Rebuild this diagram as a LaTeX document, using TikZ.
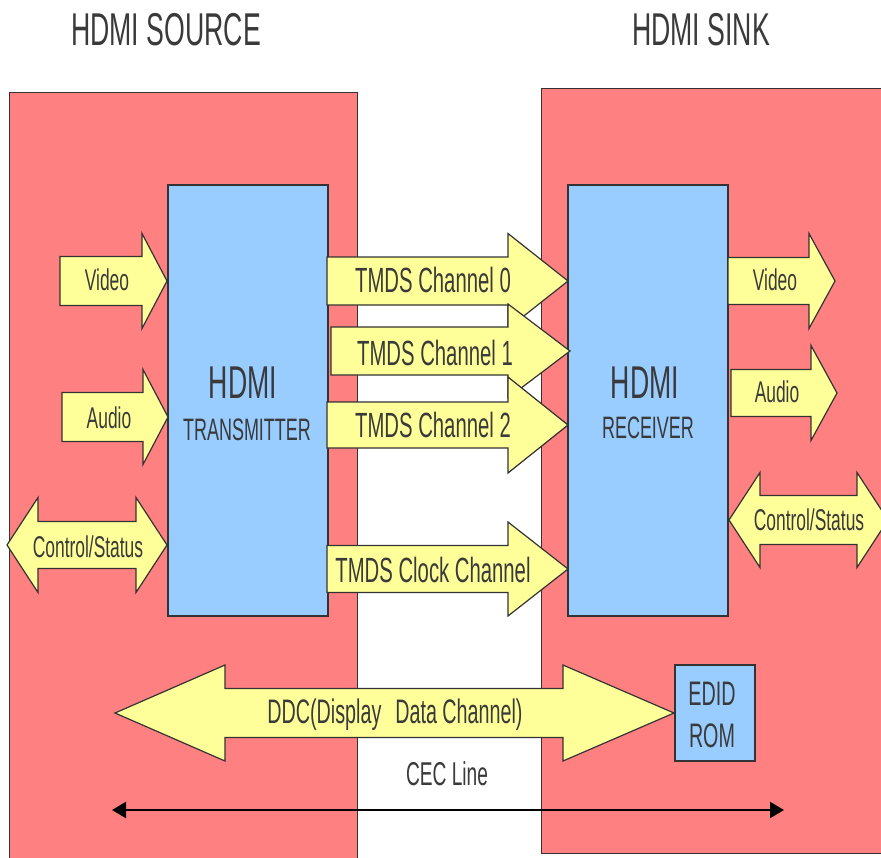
\documentclass[tikz,border=0pt]{standalone}
\usepackage{fontspec}
\setmainfont[FakeStretch=0.58]{Liberation Sans}
\usetikzlibrary{arrows.meta}

\definecolor{boxred}{RGB}{255,128,128}
\definecolor{chipblue}{RGB}{153,204,255}
\definecolor{flowyellow}{RGB}{255,255,153}
\definecolor{edge}{RGB}{51,51,51}
\definecolor{ink}{RGB}{58,58,58}

% single-headed block arrow: tail x, head base x, tip x, centre y, shaft half, head half
\newcommand\blockarrowR[6]{%
  \path[flow] (#1,#4-#5) -- (#2,#4-#5) -- (#2,#4-#6) -- (#3,#4)
    -- (#2,#4+#6) -- (#2,#4+#5) -- (#1,#4+#5) -- cycle;}
% double-headed block arrow: left tip, left base, right base, right tip, centre y, shaft half, head half
\newcommand\blockarrowLR[7]{%
  \path[flow] (#1,#5) -- (#2,#5-#7) -- (#2,#5-#6) -- (#3,#5-#6) -- (#3,#5-#7)
    -- (#4,#5) -- (#3,#5+#7) -- (#3,#5+#6) -- (#2,#5+#6) -- (#2,#5+#7) -- cycle;}

\begin{document}
\begin{tikzpicture}[x=1pt,y=-1pt,
  device/.style={draw=edge,line width=1pt,fill=boxred},
  chip/.style={draw=edge,line width=1.2pt,fill=chipblue},
  flow/.style={draw=edge,line width=1.2pt,fill=flowyellow,line join=miter},
  txt/.style={anchor=base,inner sep=0pt,text=ink},
  title/.style={txt,font=\fontsize{46}{50}\selectfont},
  chipbig/.style={txt,font=\fontsize{46}{50}\selectfont},
  chipsmall/.style={txt,font=\fontsize{31}{36}\selectfont},
  sig/.style={txt,font=\fontsize{30}{34}\selectfont},
  tmds/.style={txt,font=\fontsize{35}{40}\selectfont},
  cec/.style={draw=black,line width=2.2pt,{Triangle[length=14pt,width=16pt]}-{Triangle[length=14pt,width=16pt]}}]

\clip (0,0) rectangle (881,857);
\fill[white] (0,0) rectangle (881,857);

% the two devices
\path[device] (9,92) rectangle (357,870);
\path[device] (541,88) rectangle (900,853);
\node[title] (srcT) at (166,45) {HDMI SOURCE};
\node[title] (snkT) at (701,45) {HDMI SINK};

% transmitter and receiver chips
\node[chip,minimum width=160pt,minimum height=431pt,inner sep=0pt] (tx) at (248,400.5) {};
\node[chip,minimum width=160pt,minimum height=431pt,inner sep=0pt] (rx) at (648,400.5) {};
\node[chipbig] (txA) at (243,398) {HDMI};
\node[chipsmall] (txB) at (247,440) {TRANSMITTER};
\node[chipbig] (rxA) at (645,398) {HDMI};
\node[chipsmall] (rxB) at (648,438) {RECEIVER};

% source side inputs
\blockarrowR{60}{142}{167}{281}{24.5}{47.5}
\node[sig] (vIn) at (107,290) {Video};
\blockarrowR{62}{143}{168}{417}{24.5}{47.5}
\node[sig] (aIn) at (109,428) {Audio};
\blockarrowLR{7}{38}{136}{167}{545}{23.5}{47.5}
\node[sig] (cIn) at (88,557) {Control/Status};

% TMDS link
\blockarrowR{327}{508}{568}{281}{24}{47.5}
\node[tmds] (ch0) at (433,292) {TMDS Channel 0};
\blockarrowR{331}{508}{570}{351}{24}{47}
\node[tmds] (ch1) at (435,365) {TMDS Channel 1};
\blockarrowR{327}{508}{568}{425}{23}{48}
\node[tmds] (ch2) at (433,437) {TMDS Channel 2};
\blockarrowR{327}{508}{568}{569}{23.5}{47}
\node[tmds] (clk) at (433,582) {TMDS Clock Channel};

% sink side outputs
\blockarrowR{728}{809}{835}{281}{23.5}{47.5}
\node[sig] (vOut) at (775,290) {Video};
\blockarrowR{731}{811}{837}{393}{23.5}{47.5}
\node[sig] (aOut) at (777,402) {Audio};
\blockarrowLR{729}{760}{857}{888}{520}{24.5}{47.5}
\node[sig] (cOut) at (809,530) {Control/Status};

% EDID ROM and the DDC bus
\node[chip,minimum width=80pt,minimum height=96pt,inner sep=0pt] (edid) at (715,713) {};
\node[txt,font=\fontsize{34}{38}\selectfont] (edidA) at (712,705) {EDID};
\node[txt,font=\fontsize{34}{38}\selectfont] (edidB) at (712,747) {ROM};
\blockarrowLR{115}{225}{563}{674}{713}{24.5}{48}
\node[txt,font=\fontsize{34}{38}\selectfont] (ddc) at (395,723) {DDC(Display\hspace{14pt}Data Channel)};

% CEC line
\node[txt,font=\fontsize{33}{38}\selectfont] (cecT) at (447,785) {CEC Line};
\coordinate (cecL) at (112,810);
\coordinate (cecR) at (784,810);
\draw[cec] (cecL) -- (cecR);
\end{tikzpicture}
\end{document}
